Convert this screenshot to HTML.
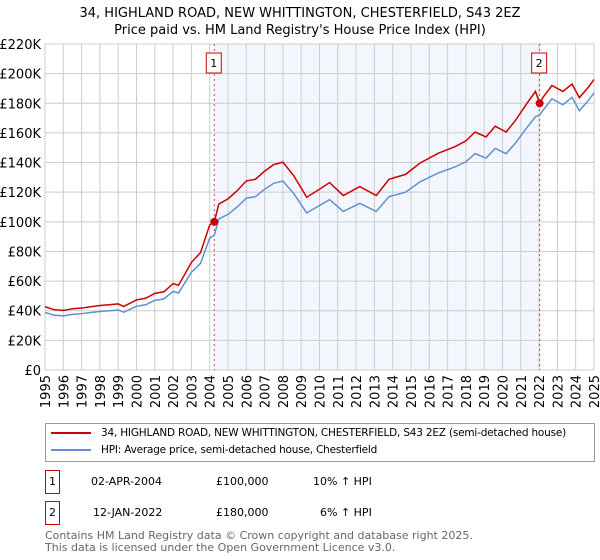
<!DOCTYPE html>
<html><head><meta charset="utf-8"><style>
body{margin:0;background:#fff;font-family:"DejaVu Sans","Liberation Sans",sans-serif;}
#wrap{position:relative;width:600px;height:560px;overflow:hidden}
.t{position:absolute;font-size:12px;color:#000;white-space:nowrap}
</style></head><body><div id="wrap">
<svg id="chart" width="600" height="420" style="position:absolute;left:0;top:0"></svg>
<div style="position:absolute;left:45px;top:423px;width:548px;height:37px;border:1px solid #999;background:#fff">
 <div style="position:absolute;left:5px;top:3px;font-size:10.5px;letter-spacing:-0.2px;white-space:nowrap"><span style="display:inline-block;width:40px;height:2px;background:#cc0000;vertical-align:middle;margin-right:10px"></span>34, HIGHLAND ROAD, NEW WHITTINGTON, CHESTERFIELD, S43 2EZ (semi-detached house)</div>
 <div style="position:absolute;left:5px;top:20px;font-size:10.5px;letter-spacing:-0.2px;white-space:nowrap"><span style="display:inline-block;width:40px;height:2px;background:#6090d0;vertical-align:middle;margin-right:10px"></span>HPI: Average price, semi-detached house, Chesterfield</div>
</div>
<div style="position:absolute;left:45px;top:470px;width:13px;height:22px;border:1px solid #cc0000;font-size:11px;line-height:22px;text-align:center">1</div>
<div class="t" style="left:91px;top:475px;font-size:11px">02-APR-2004</div>
<div class="t" style="left:216px;top:475px;font-size:11px">£100,000</div>
<div class="t" style="left:313px;top:475px;font-size:11px">10% ↑ HPI</div>
<div style="position:absolute;left:45px;top:501px;width:13px;height:22px;border:1px solid #cc0000;font-size:11px;line-height:22px;text-align:center">2</div>
<div class="t" style="left:93px;top:506px;font-size:11px">12-JAN-2022</div>
<div class="t" style="left:216px;top:506px;font-size:11px">£180,000</div>
<div class="t" style="left:320px;top:506px;font-size:11px">6% ↑ HPI</div>
<div class="t" style="left:45px;top:530px;font-size:11px;color:#666;line-height:12px">Contains HM Land Registry data © Crown copyright and database right 2025.<br>This data is licensed under the Open Government Licence v3.0.</div>
</div>
<script>
const years=[1995,1995.5,1996,1996.5,1997,1997.5,1998,1998.5,1999,1999.3,2000,2000.5,2001,2001.5,2002,2002.3,2003,2003.5,2004,2004.25,2004.5,2005,2005.5,2006,2006.5,2007,2007.5,2008,2008.6,2009.3,2010,2010.55,2011.3,2012.2,2013.1,2013.8,2014.7,2015.5,2016.5,2017.4,2018,2018.5,2019.1,2019.6,2020.2,2020.7,2021.3,2021.8,2022.03,2022.2,2022.7,2023.3,2023.8,2024.2,2024.7,2025];
const hpi=[38.8,37,36.5,37.5,38,38.8,39.5,40,40.5,39,43,44,47,48,53,52,66,72,89,91,102,105,110,116,117,122,126,127.5,119,106,111,115,107,112.5,107,117,120,127,133,137,140.5,146,143,149.5,146,153,163,171,172,175,183,179,184,175,182,187];
const price=[42.7,40.7,40.2,41.3,41.8,42.7,43.5,44,44.6,42.9,47.3,48.4,51.7,52.8,58.3,57.2,72.6,79.2,97.9,100,112,115.5,121,127.6,128.7,134.2,138.6,140.3,131,116.6,122,126.5,117.7,123.8,117.7,128.7,132,139.7,146.3,150.7,154.6,160.6,157.3,164.5,160.6,168.3,179.3,188,180,183.8,192,188,193,183.8,191,196];
const sales=[{n:"1",year:2004.25,value:100},{n:"2",year:2022.03,value:180}];
const yTicks=[0,20,40,60,80,100,120,140,160,180,200,220];
const xTicks=[1995,1996,1997,1998,1999,2000,2001,2002,2003,2004,2005,2006,2007,2008,2009,2010,2011,2012,2013,2014,2015,2016,2017,2018,2019,2020,2021,2022,2023,2024,2025];
const X0=45,X1=594,Y0=370,Y1=44;
const x=v=>X0+(v-1995)/30*(X1-X0);
const y=v=>Y0-v/220*(Y0-Y1);
const svg=document.getElementById('chart');const NS='http://www.w3.org/2000/svg';
function mk(t,a,p){const e=document.createElementNS(NS,t);for(const k in a)e.setAttribute(k,a[k]);(p||svg).appendChild(e);return e;}
let e;
e=mk('rect',{x:x(sales[0].year),y:Y1,width:x(sales[1].year)-x(sales[0].year),height:Y0-Y1,fill:'#eef3fc',opacity:0.7});


yTicks.forEach(v=>{
 e=mk('line',{x1:X0,x2:X1,y1:y(v),y2:y(v),stroke:'#ccc','stroke-width':1});
 
 
 e=mk('text',{x:X0-4,y:y(v)+5,'text-anchor':'end','font-size':13,'font-family':'DejaVu Sans, sans-serif'});
 e.textContent=v===0?'£0':'£'+v+'K';
 
 
});
xTicks.forEach(v=>{
 e=mk('line',{x1:x(v),x2:x(v),y1:Y1,y2:Y0,stroke:'#ccc','stroke-width':1});
 
 
 e=mk('text',{x:0,y:0,'text-anchor':'end','font-size':13,'font-family':'DejaVu Sans, sans-serif',transform:`translate(${x(v)+5},${Y0+5}) rotate(-90)`});
 e.textContent=v;
 
 
});
e=mk('text',{x:300,y:17,'text-anchor':'middle','font-size':13,'font-family':'DejaVu Sans, sans-serif'});e.textContent='34, HIGHLAND ROAD, NEW WHITTINGTON, CHESTERFIELD, S43 2EZ';


e=mk('text',{x:300,y:34,'text-anchor':'middle','font-size':13,'font-family':'DejaVu Sans, sans-serif'});e.textContent="Price paid vs. HM Land Registry's House Price Index (HPI)";


sales.forEach(s=>{
 e=mk('line',{x1:x(s.year),x2:x(s.year),y1:Y1,y2:Y0,stroke:'#e04040','stroke-width':1,'stroke-dasharray':'2,3'});
 
 
});
e=mk('polyline',{points:years.map((v,i)=>x(v)+','+y(hpi[i])).join(' '),fill:'none',stroke:'#6090d0','stroke-width':1.5});


e=mk('polyline',{points:years.map((v,i)=>x(v)+','+y(price[i])).join(' '),fill:'none',stroke:'#cc0000','stroke-width':1.5});


sales.forEach(s=>{
 e=mk('circle',{cx:x(s.year),cy:y(s.value),r:4,fill:'#cc0000'});
 
 
 e=mk('rect',{x:x(s.year)-8,y:53,width:15,height:20,fill:'#fff',stroke:'#cc0000'});
 
 
 e=mk('text',{x:x(s.year)-0.5,y:67,'text-anchor':'middle','font-size':11,'font-family':'DejaVu Sans, sans-serif'});e.textContent=s.n;
 
 
});
</script></body></html>
